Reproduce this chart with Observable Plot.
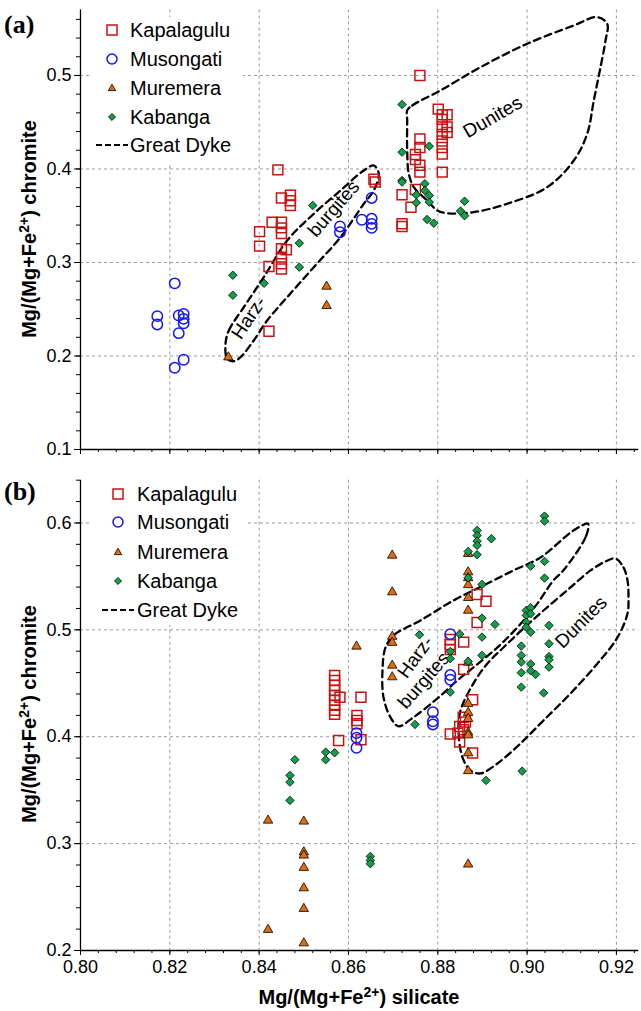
<!DOCTYPE html>
<html><head><meta charset="utf-8">
<script src="https://cdn.jsdelivr.net/npm/d3@7"></script>
<script src="https://cdn.jsdelivr.net/npm/@observablehq/plot@0.6"></script>
<style>
body{margin:0;background:#fff;}
#wrap{position:relative;width:641px;height:1011px;overflow:hidden;background:#fff;}
#pa,#pb{position:absolute;left:0;}
#pa{top:0}#pb{top:462px}
#ov{position:absolute;left:0;top:0;pointer-events:none}
</style></head><body>
<div id="wrap"><div id="pa"></div><div id="pb"></div><svg id="ov" width="641" height="1011"></svg></div>
<script>
const FONT = "'Liberation Sans', Arial, Helvetica, sans-serif";

// ---------- axes / ticks ----------
const X_DOMAIN = [0.80, 0.925];
const xMajor = [0.80, 0.82, 0.84, 0.86, 0.88, 0.90, 0.92];
const xGrid = [0.82, 0.84, 0.86, 0.88, 0.90, 0.92];
const xMinor = d3.range(0, 32).map(i => +(0.80 + i * 0.004).toFixed(3));
const Y_DOMAIN_A = [0.1, 0.57];
const yMajorA = [0.1, 0.2, 0.3, 0.4, 0.5];
const yGridA = [0.2, 0.3, 0.4, 0.5];
const yMinorA = d3.range(0, 24).map(i => +(0.10 + i * 0.02).toFixed(2));
const Y_DOMAIN_B = [0.2, 0.64];
const yMajorB = [0.2, 0.3, 0.4, 0.5, 0.6];
const yGridB = [0.3, 0.4, 0.5, 0.6];
const yMinorB = d3.range(0, 23).map(i => +(0.20 + i * 0.02).toFixed(2));

const seriesNames = ["Kapalagulu", "Musongati", "Muremera", "Kabanga", "Great Dyke"];

// ---------- panel (a) data: [Mg# silicate, Mg# chromite] ----------
const kapA = [[0.8442,0.399],[0.8450,0.369],[0.8470,0.372],[0.8470,0.366],[0.8470,0.361],[0.8429,0.343],[0.8450,0.343],[0.8450,0.337],[0.8450,0.331],[0.8401,0.333],[0.8401,0.3175],[0.8450,0.3147],[0.8461,0.3136],[0.8450,0.3057],[0.8450,0.2986],[0.8450,0.2930],[0.8422,0.2957],[0.8422,0.2265],[0.8657,0.389],[0.8660,0.386],[0.8760,0.500],[0.8801,0.464],[0.8810,0.458],[0.8821,0.458],[0.8810,0.453],[0.8810,0.445],[0.8821,0.445],[0.8821,0.439],[0.8810,0.437],[0.8810,0.430],[0.8810,0.423],[0.8810,0.416],[0.8810,0.3966],[0.8760,0.432],[0.8760,0.423],[0.8750,0.4155],[0.8750,0.410],[0.8760,0.404],[0.8760,0.3966],[0.8720,0.3724],[0.8750,0.378],[0.8740,0.359],[0.8720,0.3414],[0.8720,0.3385]];
const musA = [[0.8211,0.2777],[0.8172,0.2426],[0.8172,0.2337],[0.8220,0.2433],[0.8231,0.2450],[0.8231,0.2397],[0.8231,0.2350],[0.8220,0.2244],[0.8231,0.1960],[0.8211,0.1874],[0.8581,0.3385],[0.8581,0.3324],[0.8630,0.3457],[0.8652,0.3467],[0.8652,0.3413],[0.8652,0.3370],[0.8652,0.3690]];
const murA = [[0.8331,0.1987],[0.8551,0.2743],[0.8551,0.2537]];
const kabA = [[0.8341,0.2864],[0.8341,0.2650],[0.8411,0.2777],[0.8490,0.3207],[0.8490,0.2950],[0.8520,0.3610],[0.8720,0.469],[0.8720,0.418],[0.8781,0.4244],[0.8720,0.3877],[0.8720,0.3860],[0.8771,0.3842],[0.8771,0.3770],[0.8781,0.3717],[0.8752,0.3724],[0.8752,0.3639],[0.8781,0.3645],[0.8776,0.3460],[0.8791,0.3420],[0.8860,0.3655],[0.8851,0.3550],[0.8860,0.3500]];
const harzA = [[0.83247,0.2130],[0.83321,0.2273],[0.83657,0.2522],[0.84104,0.2843],[0.84628,0.3235],[0.85224,0.3521],[0.85822,0.3770],[0.86344,0.3984],[0.86568,0.4037],[0.86679,0.3949],[0.86568,0.3770],[0.86344,0.3628],[0.85822,0.3271],[0.85224,0.2950],[0.84628,0.2629],[0.84180,0.2380],[0.83880,0.2166],[0.83583,0.1987],[0.83433,0.1944],[0.83285,0.1970]];
const dunA = [[0.87315,0.4626],[0.87427,0.4679],[0.88061,0.4840],[0.88957,0.5089],[0.90002,0.5339],[0.91046,0.5535],[0.91570,0.5624],[0.91794,0.5553],[0.91756,0.5374],[0.91644,0.5089],[0.91494,0.4733],[0.91346,0.4376],[0.91046,0.4091],[0.90450,0.3805],[0.89554,0.3628],[0.88807,0.3538],[0.88211,0.3527],[0.87987,0.3556],[0.87763,0.3663],[0.87463,0.3805],[0.87351,0.3949],[0.87315,0.4198],[0.87315,0.4519]];
const fieldLabelsA = [{text:"Harz-", x:0.8377, y:0.2408},{text:"burgites", x:0.8567, y:0.3574},{text:"Dunites", x:0.8923, y:0.4554}];

// ---------- panel (b) data ----------
const kapB = [[0.8569,0.4574],[0.8569,0.4527],[0.8569,0.4480],[0.8569,0.4434],[0.8569,0.4387],[0.8569,0.4340],[0.8569,0.4293],[0.8569,0.4247],[0.8569,0.4209],[0.8581,0.4370],[0.8578,0.3965],[0.8628,0.4369],[0.8619,0.4200],[0.8619,0.4152],[0.8619,0.4122],[0.8628,0.3972],[0.8888,0.5330],[0.8908,0.5268],[0.8888,0.5068],[0.8858,0.4885],[0.8828,0.4910],[0.8828,0.4862],[0.8828,0.4815],[0.8858,0.4630],[0.8878,0.4346],[0.8857,0.4183],[0.8862,0.4137],[0.8849,0.4096],[0.8858,0.4065],[0.8845,0.4034],[0.8828,0.4025],[0.8849,0.3950],[0.8878,0.3847]];
const musB = [[0.8618,0.4034],[0.8618,0.3990],[0.8618,0.3897],[0.8828,0.4960],[0.8828,0.4577],[0.8828,0.4533],[0.8789,0.4230],[0.8789,0.4145],[0.8789,0.4115]];
const murB = [[0.8618,0.4845],[0.8420,0.3217],[0.8500,0.3208],[0.8500,0.2920],[0.8500,0.2890],[0.8500,0.2775],[0.8500,0.2584],[0.8500,0.2391],[0.8420,0.2195],[0.8500,0.2069],[0.8868,0.2806],[0.8698,0.5696],[0.8698,0.5353],[0.8698,0.4937],[0.8698,0.4880],[0.8698,0.4667],[0.8698,0.4558],[0.8868,0.5712],[0.8868,0.5540],[0.8868,0.5485],[0.8868,0.5420],[0.8868,0.5300],[0.8868,0.5181],[0.8868,0.4695],[0.8868,0.4309],[0.8868,0.4225],[0.8868,0.4168],[0.8868,0.4040],[0.8868,0.4015],[0.8868,0.3847],[0.8868,0.3680]];
const kabB = [[0.9039,0.6064],[0.9039,0.6017],[0.8888,0.5930],[0.8888,0.5883],[0.8888,0.5830],[0.8888,0.5790],[0.8888,0.5703],[0.8920,0.5852],[0.8868,0.5733],[0.9008,0.5596],[0.9039,0.5640],[0.8868,0.5487],[0.9039,0.5484],[0.8899,0.5425],[0.8998,0.5181],[0.9008,0.5207],[0.8998,0.5135],[0.9008,0.5150],[0.8998,0.5072],[0.8998,0.5025],[0.9008,0.4978],[0.8899,0.5110],[0.8928,0.5051],[0.9049,0.5041],[0.8759,0.4954],[0.8899,0.4932],[0.8849,0.4960],[0.9049,0.4870],[0.8987,0.4848],[0.8899,0.4761],[0.8987,0.4761],[0.8987,0.4698],[0.9008,0.4680],[0.9049,0.4750],[0.9049,0.4720],[0.9049,0.4651],[0.8828,0.4798],[0.8828,0.4730],[0.8480,0.3785],[0.8549,0.3856],[0.8569,0.3850],[0.8549,0.3785],[0.8469,0.3638],[0.8469,0.3575],[0.8469,0.3404],[0.8649,0.2880],[0.8649,0.2843],[0.8649,0.2812],[0.8828,0.4417],[0.8749,0.4115],[0.8987,0.4599],[0.9008,0.4617],[0.9019,0.4583],[0.8987,0.4464],[0.9037,0.4410],[0.8989,0.3678],[0.8908,0.3591],[0.8868,0.4705]];
const harzB = [[0.91375,0.5986],[0.91308,0.5865],[0.90815,0.5557],[0.90591,0.5463],[0.90233,0.5248],[0.89785,0.5024],[0.89337,0.4836],[0.88800,0.4649],[0.88442,0.4528],[0.87994,0.4359],[0.87456,0.4182],[0.87120,0.4098],[0.86941,0.4182],[0.86785,0.4368],[0.86762,0.4620],[0.86829,0.4835],[0.87009,0.4948],[0.87613,0.5088],[0.88352,0.5275],[0.89024,0.5415],[0.89696,0.5556],[0.90300,0.5677],[0.91039,0.5930],[0.91353,0.5995]];
const dunB = [[0.91979,0.5668],[0.92158,0.5584],[0.92248,0.5462],[0.92270,0.5303],[0.92248,0.5153],[0.92024,0.4929],[0.91576,0.4686],[0.90972,0.4405],[0.90367,0.4152],[0.89852,0.3937],[0.89337,0.3750],[0.88957,0.3657],[0.88733,0.3685],[0.88553,0.3806],[0.88464,0.4059],[0.88509,0.4246],[0.88800,0.4499],[0.89113,0.4686],[0.89471,0.4835],[0.89919,0.5013],[0.90367,0.5181],[0.90972,0.5397],[0.91420,0.5556],[0.91756,0.5640]];
const fieldLabelsB = [{text:"Harz-", x:0.8750, y:0.4745},{text:"burgites", x:0.8769, y:0.4527},{text:"Dunites", x:0.9121, y:0.5072}];

// ---------- styles ----------
const STY = {
  kap: {symbol: "square", r: 5.6, fill: "none", stroke: "#cc1111", strokeWidth: 1.5},
  mus: {symbol: "circle", r: 5.2, fill: "none", stroke: "#1414ff", strokeWidth: 1.5},
  mur: {symbol: "triangle", r: 3.5, fill: "#e46c0a", stroke: "#000", strokeWidth: 0.8},
  kab: {symbol: "diamond2", r: 3.8, fill: "#13a04b", stroke: "#000", strokeWidth: 0.8}
};
const GRID = {stroke: "#9a9a9a", strokeOpacity: 1, strokeWidth: 1, strokeDasharray: "3,3"};
const DASH = {stroke: "#000", strokeWidth: 2.3, strokeDasharray: "7,4.5", curve: "catmull-rom-closed", fill: "none"};

function panel(o) {
  return Plot.plot({
    width: 641, height: o.height,
    marginLeft: 80, marginRight: 2.75, marginTop: o.mt, marginBottom: o.mb,
    style: {fontFamily: FONT, fontSize: "18px", color: "#000", background: "transparent", overflow: "visible"},
    x: {domain: X_DOMAIN, label: null},
    y: {domain: o.yDomain, label: null},
    marks: [
      Plot.gridX(xGrid, GRID),
      Plot.gridY(o.yGrid, GRID),
      Plot.line(o.harz, DASH),
      Plot.line(o.dun, DASH),
      ...o.labels.map((l, i) => Plot.text([l], {x: "x", y: "y", text: "text", rotate: o.rot[i], fontSize: 19, fill: "#000"})),
      Plot.axisY(o.yMinor, {tickSize: 4, tickFormat: () => "", label: null}),
      Plot.axisY(o.yMajor, {tickSize: 6, tickPadding: 3, tickFormat: d3.format(".1f"), fontSize: 18, label: null}),
      Plot.axisX(xMinor, {tickSize: 3, tickFormat: () => "", label: null}),
      Plot.axisX(xMajor, {tickSize: 5, tickPadding: 5, tickFormat: o.xLabels ? d3.format(".2f") : () => "", fontSize: 18, label: null}),
      Plot.ruleX([X_DOMAIN[0]], {stroke: "#000", strokeWidth: 1.3}),
      Plot.ruleY([o.yDomain[0]], {stroke: "#000", strokeWidth: 1.3}),
      Plot.dot(o.kap, STY.kap),
      Plot.dot(o.mus, STY.mus),
      Plot.dot(o.mur, STY.mur),
      Plot.dot(o.kab, STY.kab)
    ]
  });
}

document.getElementById("pa").append(panel({
  height: 462, mt: 9.5, mb: 13, yDomain: Y_DOMAIN_A, yMajor: yMajorA, yMinor: yMinorA, yGrid: yGridA,
  xLabels: false, harz: harzA, dun: dunA, labels: fieldLabelsA, rot: [-56, -49, -30],
  kap: kapA, mus: musA, mur: murA, kab: kabA
}));
document.getElementById("pb").append(panel({
  height: 549, mt: 17.7, mb: 61, yDomain: Y_DOMAIN_B, yMajor: yMajorB, yMinor: yMinorB, yGrid: yGridB,
  xLabels: true, harz: harzB, dun: dunB, labels: fieldLabelsB, rot: [-54, -49, -45],
  kap: kapB, mus: musB, mur: murB, kab: kabB
}));

// ---------- overlay: legends, titles, panel letters ----------
const ov = d3.select("#ov").attr("font-family", FONT);

function legend(box, cx, tx, rows) {
  ov.append("rect").attr("x", box[0]).attr("y", box[1]).attr("width", box[2]).attr("height", box[3]).attr("fill", "#fff");
  const sym = [
    g => g.append("rect").attr("x", cx - 5).attr("y", -5).attr("width", 10).attr("height", 10).attr("fill", "none").attr("stroke", STY.kap.stroke).attr("stroke-width", 1.5),
    g => g.append("circle").attr("cx", cx).attr("cy", 0).attr("r", 5).attr("fill", "none").attr("stroke", STY.mus.stroke).attr("stroke-width", 1.5),
    g => g.append("path").attr("transform", `translate(${cx},0.5)`).attr("d", d3.symbol(d3.symbolTriangle, 24)()).attr("fill", STY.mur.fill).attr("stroke", "#000").attr("stroke-width", 0.8),
    g => g.append("path").attr("transform", `translate(${cx},0)`).attr("d", d3.symbol(d3.symbolDiamond2, 32)()).attr("fill", STY.kab.fill).attr("stroke", "#000").attr("stroke-width", 0.8),
    g => g.append("line").attr("x1", cx - 16).attr("x2", cx + 16).attr("y1", 0).attr("y2", 0).attr("stroke", "#000").attr("stroke-width", 2).attr("stroke-dasharray", "6,3")
  ];
  seriesNames.forEach((name, i) => {
    const g = ov.append("g").attr("transform", `translate(0,${rows[i]})`);
    sym[i](g);
    g.append("text").attr("x", tx).attr("y", 0).attr("dy", "0.36em").attr("font-size", 20).attr("fill", "#000").text(name);
  });
}
legend([90, 17, 153, 146], 112, 130, [30, 59, 88, 117, 145]);
legend([90, 478, 157, 147], 118, 137, [494, 522, 552, 581, 610]);

function title(sel, lead, tail) {
  sel.append("tspan").text(lead);
  sel.append("tspan").attr("font-size", "70%").attr("dy", -7).text("2+");
  sel.append("tspan").attr("dy", 7).text(tail);
}
[229, 714].forEach(cy => {
  const t = ov.append("text").attr("transform", `translate(36,${cy}) rotate(-90)`)
    .attr("text-anchor", "middle").attr("font-weight", "bold").attr("font-size", 20).attr("fill", "#000");
  title(t, "Mg/(Mg+Fe", ") chromite");
});
const xt = ov.append("text").attr("x", 359).attr("y", 1004).attr("text-anchor", "middle")
  .attr("font-weight", "bold").attr("font-size", 20).attr("fill", "#000");
title(xt, "Mg/(Mg+Fe", ") silicate");

[["(a)", 33], ["(b)", 500]].forEach(([s, y]) => {
  ov.append("text").attr("x", 4).attr("y", y).attr("font-family", "'Liberation Serif', 'Times New Roman', serif")
    .attr("font-weight", "bold").attr("font-size", 26).attr("fill", "#000").text(s);
});
</script></body></html>
